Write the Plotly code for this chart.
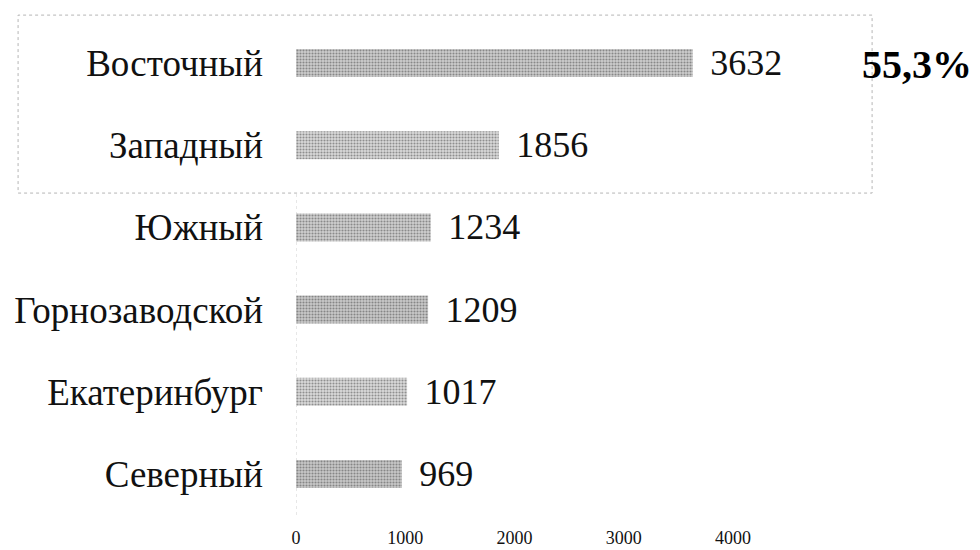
import plotly.graph_objects as go

categories = ["Восточный", "Западный", "Южный", "Горнозаводской", "Екатеринбург", "Северный"]
values = [3632, 1856, 1234, 1209, 1017, 969]
tick_vals = [0, 1000, 2000, 3000, 4000]
bar_bg = ["#cdcdcd", "#d9d9d9", "#d0d0d0", "#c9c9c9", "#dadada", "#c8c8c8"]
bar_fg = ["#8e8e8e", "#a4a4a4", "#979797", "#8c8c8c", "#a8a8a8", "#8a8a8a"]
share_label = "55,3%"

SERIF = "Liberation Serif, Times New Roman, serif"

fig = go.Figure(go.Bar(
    y=categories,
    x=values,
    orientation="h",
    text=["\u2009\u2009" + str(v) for v in values],
    textposition="outside",
    constraintext="none",
    cliponaxis=False,
    textfont=dict(family=SERIF, size=36, color="#111111"),
    marker=dict(
        color=bar_bg,
        line=dict(width=0),
        pattern=dict(shape=".", fgcolor=bar_fg, bgcolor=bar_bg, size=3, solidity=0.4),
    ),
))

# the page adds an 8px body margin, so the figure is laid out 8px up/left
fig.update_layout(
    width=972, height=542,
    margin=dict(l=288, r=105, t=14, b=35, autoexpand=False),
    paper_bgcolor="white", plot_bgcolor="white",
    bargap=0.66,
    showlegend=False,
    font=dict(family=SERIF, color="#111111"),
    xaxis=dict(
        range=[0, 5300], tickvals=tick_vals, showgrid=False, zeroline=False,
        showline=False, ticks="", automargin=False, ticklabelstandoff=10,
        tickfont=dict(family=SERIF, size=18, color="#111111"),
    ),
    yaxis=dict(
        categoryorder="array", categoryarray=categories[::-1], showgrid=False,
        zeroline=False, showline=False, ticks="", ticklabelstandoff=32, automargin=False,
        tickfont=dict(family=SERIF, size=37, color="#111111"),
    ),
    shapes=[
        dict(type="rect", xref="paper", yref="paper", x0=-0.480, x1=0.995, y0=0.653, y1=1.014,
             line=dict(color="#b5b5b5", width=1, dash="dot"), layer="below"),
        dict(type="line", xref="x", yref="paper", x0=0, x1=0, y0=0.0, y1=0.653,
             line=dict(color="#cfcfcf", width=1, dash="dot"), layer="below"),
    ],
    annotations=[
        dict(text="<b>" + share_label + "</b>", xref="paper", yref="paper", x=1.072, y=0.913,
             xanchor="center", yanchor="middle", showarrow=False,
             font=dict(family=SERIF, size=40, color="#000000")),
    ],
)

fig.write_html("out.html")
